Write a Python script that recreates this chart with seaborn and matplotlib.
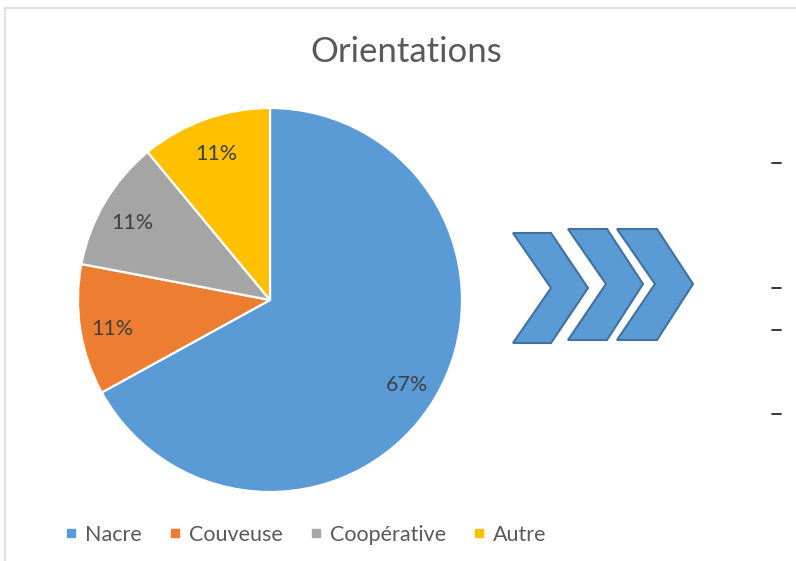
import matplotlib
matplotlib.use("Agg")
import matplotlib.pyplot as plt
import seaborn as sns
from matplotlib.patches import Polygon
from matplotlib.lines import Line2D

sns.set_theme(style="white")
plt.rcParams['font.family'] = ['Lato', 'DejaVu Sans']

categories = ["Nacre", "Couveuse", "Coopérative", "Autre"]
values = [67, 11, 11, 11]
colors = ["#5B9BD5", "#ED7D31", "#A5A5A5", "#FFC000"]
title = "Orientations"

W, H = 796, 561
fig = plt.figure(figsize=(W / 100, H / 100), dpi=100)
fig.patch.set_facecolor("white")


def fx(x):
    return x / W


def fy(y):
    return 1 - y / H


# pie axes: centre (270, 300), radius 192 px
cx, cy, r = 270, 300, 192
ax = fig.add_axes([fx(cx - r), fy(cy + r), 2 * r / W, 2 * r / H])
wedges, texts, autotexts = ax.pie(
    values, colors=colors, startangle=90, counterclock=False,
    autopct='%.0f%%', pctdistance=0.83,
    wedgeprops=dict(edgecolor="white", linewidth=1.6),
    textprops=dict(color="#404040", fontsize=15.5),
)
for t in autotexts:
    x, y = t.get_position()
    t.set_position((x, y - 0.02))
ax.set_xlim(-1, 1)
ax.set_ylim(-1, 1)
ax.set_aspect("auto")
ax.axis("off")

# title
fig.text(fx(406), fy(52), title, ha="center", va="center",
         fontsize=25, color="#595959")

# legend
handles = [Line2D([0], [0], marker="s", linestyle="none", markersize=6,
                  markerfacecolor=c, markeredgecolor=c) for c in colors]
fig.legend(handles, categories, loc="center", bbox_to_anchor=(fx(306), fy(535)),
           ncol=4, frameon=False, fontsize=15.5, handlelength=0.5,
           handletextpad=0.4, columnspacing=1.3, labelcolor="#595959")

# chevrons
chevrons = [
    [(513, 233), (551, 233), (588, 288), (551, 343), (513, 343), (551, 288)],
    [(568, 229), (607, 229), (643, 284), (607, 340), (568, 340), (606, 284)],
    [(617, 229), (657, 229), (693, 284), (657, 340), (617, 340), (655, 284)],
]
for pts in chevrons:
    fig.add_artist(Polygon([(fx(x), fy(y)) for x, y in pts], closed=True,
                           facecolor="#5B9BD5", edgecolor="#41719C",
                           linewidth=1.5, transform=fig.transFigure))

# dashes on the right
for y in [163, 288, 330, 414]:
    fig.add_artist(Line2D([fx(772), fx(781)], [fy(y), fy(y)], color="#262626",
                          linewidth=1.3, transform=fig.transFigure))

# frame (left and top edges)
fig.add_artist(Line2D([fx(5), fx(5)], [fy(8), fy(561)], color="#D9D9D9",
                      linewidth=1.2, transform=fig.transFigure))
fig.add_artist(Line2D([fx(5), fx(796)], [fy(8), fy(8)], color="#D9D9D9",
                      linewidth=1.2, transform=fig.transFigure))

fig.savefig("out.png", dpi=100)
